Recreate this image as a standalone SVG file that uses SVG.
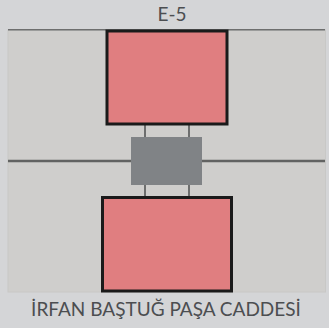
<svg xmlns="http://www.w3.org/2000/svg" width="329" height="328" viewBox="0 0 329 328">
<style>
.room{fill:#e07e80;stroke:#1a1a1a;stroke-width:3}
.link{stroke:#6d6e6e;stroke-width:2;fill:none}
.road{stroke:#626362;stroke-width:2.5;fill:none}
text{font-family:"Lato","Liberation Sans",sans-serif;font-size:19px;fill:#4c4e51;text-anchor:middle}
</style>
<rect width="329" height="328" fill="#d4d5d7"/>
<rect id="panel" x="8" y="30" width="317.5" height="262" fill="#cfcecc" stroke="#c8c8c6" stroke-width="1"/>
<g id="connectors">
<path class="link" d="M8 29.700H325" style="stroke-width:1.500"/>
<path class="road" d="M8 161H132M202 161H325"/>
<path class="link" d="M145 124V138M189 124V138M145 184V197M189 184V197"/>
</g>
<g id="room-top"><rect class="room" x="107" y="31" width="120" height="93"/></g>
<g id="room-bottom"><rect class="room" x="102.500" y="197.500" width="129" height="93.500"/></g>
<g id="junction"><rect x="131" y="137" width="71" height="48" fill="#808386"/></g>
<g id="label-top"><text x="172" y="21">E-5</text></g>
<g id="label-bottom"><text x="166" y="316">İRFAN BAŞTUĞ PAŞA CADDESİ</text></g>
</svg>
